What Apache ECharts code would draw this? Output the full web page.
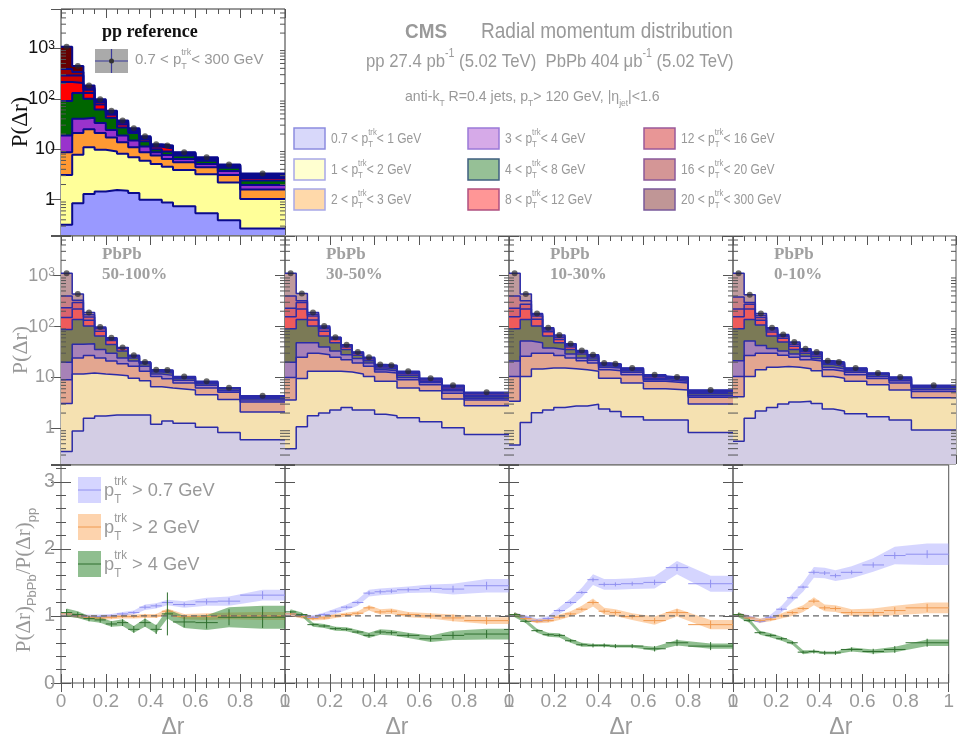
<!DOCTYPE html>
<html><head><meta charset="utf-8">
<script src="https://cdn.jsdelivr.net/npm/echarts@6/dist/echarts.min.js"></script>
<style>html,body{margin:0;padding:0;background:#fff}#c{width:957px;height:740px}</style>
</head><body><div id="c"></div>
<script>
// ---- bins ----
const edges = [0,0.05,0.1,0.15,0.2,0.25,0.3,0.35,0.4,0.45,0.5,0.6,0.7,0.8,1.0];
const centers = [0.025,0.075,0.125,0.175,0.225,0.275,0.325,0.375,0.425,0.475,0.55,0.65,0.75,0.9];
const logMinorTicks = [0.3,0.4,0.5,0.6,0.7,0.8,0.9,2,3,4,5,6,7,8,9,20,30,40,50,60,70,80,90,200,300,400,500,600,700,800,900,2000,3000,4000,5000];
const layerNames = ['0.7 < p_T^trk< 1 GeV','1 < p_T^trk< 2 GeV','2 < p_T^trk< 3 GeV','3 < p_T^trk< 4 GeV','4 < p_T^trk< 8 GeV','8 < p_T^trk< 12 GeV','12 < p_T^trk< 16 GeV','16 < p_T^trk< 20 GeV','20 < p_T^trk< 300 GeV'];
const panelLabels = ['50-100%','30-50%','10-30%','0-10%'];
const ratioLegend = ['p_T^trk > 0.7 GeV','p_T^trk > 2 GeV','p_T^trk > 4 GeV'];

// ---- cumulative (stacked) upper edges, layers bottom -> top ----
const ppCum = [
 [0.32,0.85,1.3,1.46,1.56,1.5,1.36,1.0,1.0,0.88,0.74,0.54,0.39,0.27],
 [3.1,7.8,11,9.8,9.0,8.1,6.9,5.9,5.1,4.5,3.9,3.2,2.2,1.03],
 [8.7,21,25,21,17,13.8,11,8.7,7.5,6.4,5.5,4.4,3.1,1.6],
 [18.7,40,42,33,24,18.7,14.9,11.3,8.7,7.7,6.4,5.1,3.7,1.96],
 [90,130,100,61,42,27,21,14.4,10,9.0,7.5,5.9,4.3,2.4],
 [215,205,130,77,48,31,23,16,11.2,10.3,8.0,6.3,4.6,2.7],
 [290,290,151,86,52,33.5,24.3,16.8,11.8,10.8,8.3,6.5,4.8,2.9],
 [390,340,166,92,55,35.3,25.2,17.4,12.2,11.3,8.5,6.7,4.9,3.1],
 [1070,445,184,98,58,37,26,18,12.5,11.8,8.7,6.9,5.0,3.3]
];
const pb50Cum = [
 [0.35,0.89,1.58,1.75,1.83,1.83,1.83,1.83,1.2,1.4,1.26,1.05,0.83,0.6],
 [3.1,11.7,12.2,11.7,11.3,10.8,9.7,8.6,6.6,6.2,5.7,4.6,3.7,2.1],
 [9,24,27,24,21,18.5,16.6,13.2,10.5,9.4,7.8,6.2,5.1,3.3],
 [20,45,46,35.5,30,24,21,16.6,11.7,11,8.8,7,5.5,3.6],
 [88,138,102,65,44.5,33,24,18.5,12.8,12.2,9.5,7.5,6.0,3.9],
 [150,220,133,81,53,37,25.5,19.2,13.3,12.8,9.9,7.8,6.1,4.05],
 [235,296,154,91,56,38,26.3,19.6,13.7,13.3,10.1,8.0,6.2,4.15],
 [400,330,170,95,58,38.5,26.8,19.9,13.9,13.6,10.3,8.2,6.25,4.25],
 [1110,435,188,98,60,39,27.4,20.2,14.2,14,10.5,8.4,6.3,4.4]
];
const pb30Cum = [
 [0.4,1.08,1.78,2.0,2.3,2.56,2.3,2.3,1.9,1.78,1.62,1.35,1.03,0.76],
 [3.6,9.5,13.2,13.2,13.2,12.8,11.7,10.5,8.4,8.4,6.2,5.5,3.8,2.8],
 [10,25,30,28,25,22.4,19.3,16.6,12.8,12.2,9.0,7.2,4.9,3.6],
 [20,48,48,39.5,33,28,23.5,19.3,14.2,13.6,10,8,5.5,3.9],
 [91,138,102,65,48,35.5,27.4,21.4,15.4,14.9,11,8.4,5.8,4.2],
 [155,220,135,81,56,39.5,29.5,23,16.3,15.8,11.8,8.9,6.2,4.5],
 [230,296,162,91,59,41.5,30.5,24,17,16.5,12.5,9.3,6.6,4.8],
 [400,320,175,97,61,43,31.2,24.5,17.5,17,12.9,9.5,6.8,5.0],
 [1110,445,188,102,62,44,31.7,25,17.9,17.4,13.2,9.7,7.0,5.1]
];
const pb10Cum = [
 [0.47,1.3,2.04,2.3,2.56,2.76,2.76,2.98,2.4,2.14,1.7,1.46,1.46,0.83],
 [3.4,10.5,14.7,15.4,15.4,14.9,14.2,13.2,9.7,9.7,7.8,6.0,5.7,3.0],
 [10.5,26,30,30,27,24,21.4,19.3,14.2,13.6,11.3,8.4,7.8,4.1],
 [21,52,48,38,35.5,29,24,21.8,15.8,15.4,12.6,9.0,8.4,4.4],
 [91,138,102,65,48,35.5,29,24,17,16.5,13.6,9.7,9.0,4.8],
 [155,220,139,79,56,39.5,31,25.5,17.8,17.2,14.3,10.3,9.5,5.1],
 [230,275,162,86,61,42,32.3,26.5,18.5,17.8,14.8,10.7,9.8,5.35],
 [400,320,172,91,65,44,33.2,27.3,19,18.2,15.1,11,10.0,5.55],
 [1110,435,180,95,68,45.7,33.8,28,19.3,18.5,15.4,11.3,10.2,5.7]
];
const pb0Cum = [
 [0.56,1.58,2.2,2.56,3.0,3.3,3.4,3.1,2.4,2.2,1.95,1.7,1.46,0.93],
 [4.2,10.5,14.2,15.8,16.5,15.8,14.9,13.6,10.5,9.7,8.4,7.2,5.7,4.0],
 [10.5,27,30,30,27.4,25,22.4,21,14.2,13.2,11.3,9.5,7.8,5.3],
 [21.4,52,42.5,37,33,29,26,23.5,15.8,14.9,12.6,10.5,8.6,5.8],
 [91,138,107,65,50,35.5,30,26,17.9,16.5,13.6,11.3,9.3,6.3],
 [155,220,133,78,59,41,32.5,28,19,17.7,14.3,11.7,9.6,6.6],
 [220,275,150,86,64,45,34.2,29.5,20,18.7,14.8,11.9,9.85,6.8],
 [380,296,165,91,67,48,35.5,30.8,20.8,19.5,15.1,12.05,10.0,6.9],
 [1110,420,180,95,70,50,36.5,31.7,21.4,20.2,15.4,12.2,10.2,7.0]
];

// ---- ratio PbPb/pp : [pT>0.7, pT>2, pT>4] ----
const ratio50 = [
 [1.03,1.0,0.99,0.99,1.0,1.03,1.05,1.13,1.15,1.2,1.17,1.21,1.22,1.31],
 [1.03,1.0,0.98,0.97,0.98,0.99,0.99,1.0,1.0,1.07,0.99,0.99,1.0,1.0],
 [1.05,1.02,0.96,0.94,0.88,0.9,0.8,0.9,0.8,1.03,0.91,0.9,0.98,0.98]
];
const ratio30 = [
 [1.03,1.0,0.98,1.02,1.07,1.13,1.2,1.34,1.36,1.37,1.39,1.41,1.4,1.45],
 [1.03,0.99,0.96,0.97,1.0,1.02,1.04,1.12,1.06,1.07,1.02,1.0,0.97,0.93],
 [1.06,1.02,0.87,0.85,0.81,0.8,0.76,0.71,0.76,0.75,0.71,0.66,0.71,0.73]
];
const ratio10 = [
 [1.02,0.98,0.93,0.96,1.08,1.2,1.35,1.54,1.47,1.47,1.48,1.5,1.72,1.48],
 [1.02,0.96,0.92,0.93,0.98,1.03,1.1,1.2,1.07,1.05,0.99,0.93,1.05,0.87],
 [1.02,0.92,0.78,0.72,0.71,0.63,0.57,0.56,0.56,0.55,0.55,0.51,0.6,0.55]
];
const ratio0 = [
 [1.02,0.98,0.92,0.98,1.1,1.27,1.43,1.65,1.64,1.6,1.65,1.76,1.9,1.92],
 [1.02,0.97,0.93,0.95,1.0,1.05,1.11,1.22,1.12,1.11,1.05,1.05,1.08,1.12],
 [1.02,0.93,0.75,0.71,0.66,0.6,0.46,0.47,0.45,0.45,0.5,0.47,0.5,0.6]
];
// systematic band half-widths
const sys50 = [
 [0.03,0.03,0.03,0.03,0.03,0.03,0.03,0.04,0.04,0.04,0.05,0.06,0.07,0.08],
 [0.03,0.03,0.03,0.03,0.03,0.03,0.03,0.03,0.03,0.04,0.04,0.05,0.05,0.06],
 [0.06,0.05,0.04,0.04,0.04,0.05,0.05,0.06,0.06,0.07,0.09,0.11,0.15,0.17]
];
const sys30 = [
 [0.03,0.03,0.03,0.03,0.04,0.04,0.05,0.05,0.05,0.05,0.05,0.06,0.08,0.1],
 [0.03,0.03,0.03,0.03,0.03,0.03,0.03,0.04,0.04,0.04,0.04,0.04,0.05,0.05],
 [0.04,0.03,0.03,0.03,0.03,0.03,0.03,0.04,0.04,0.04,0.04,0.05,0.07,0.08]
];
const sys10 = [
 [0.03,0.03,0.03,0.04,0.05,0.06,0.07,0.08,0.08,0.08,0.08,0.09,0.1,0.12],
 [0.03,0.03,0.03,0.03,0.04,0.04,0.05,0.06,0.05,0.05,0.05,0.06,0.06,0.07],
 [0.04,0.03,0.03,0.03,0.03,0.03,0.03,0.02,0.02,0.02,0.02,0.03,0.04,0.04]
];
const sys0 = [
 [0.03,0.03,0.03,0.04,0.05,0.06,0.07,0.08,0.08,0.08,0.09,0.1,0.13,0.16],
 [0.03,0.03,0.03,0.03,0.04,0.05,0.05,0.06,0.05,0.05,0.05,0.06,0.07,0.08],
 [0.04,0.03,0.03,0.03,0.03,0.03,0.03,0.02,0.02,0.02,0.03,0.03,0.04,0.05]
];
// statistical error bars
const statStd = [0.02,0.02,0.02,0.02,0.02,0.02,0.02,0.03,0.03,0.03,0.03,0.04,0.05,0.06];
const statG50 = [0.05,0.04,0.04,0.04,0.04,0.05,0.05,0.06,0.07,0.32,0.08,0.09,0.12,0.16];

// ---- styles ----
const ppColors = ['#9999ff','#ffff99','#ff9933','#9933cc','#006600','#ff0000','#cc0000','#990000','#660000'];
const pbColors = ['#d3cde4','#f5e1b1','#e3a690','#a782b7','#7b7a56','#ef5b5b','#d9646e','#c97f86','#bf9a9d'];
const legFill = ['#d8d8fa','#ffffd0','#ffd9aa','#d6aae8','#96c096','#ff9696','#e89696','#d49696','#c09696'];
const legStroke = ['#8c8ce0','#a8a8e8','#a8a8e8','#9a7ad8','#3f5f80','#b05080','#9a5a9a','#8a5a9a','#7a5a9a'];
const rFill = ['rgba(150,150,255,0.40)','rgba(250,150,60,0.42)','rgba(40,130,40,0.52)'];
const rLine = ['#9090f0','#f09a50','#2f6f2f'];
const GREY = '#9a9a9a';
const FONT = 'Liberation Sans';
const TICK = '#555';

const histGrids = [
 {left:61, top:9, width:224, height:226},
 {left:61, top:236, width:224, height:228},
 {left:285, top:236, width:224, height:228},
 {left:509, top:236, width:224, height:228},
 {left:733, top:236, width:223, height:228}
];
const ratioGrids = [
 {left:61, top:465, width:224, height:229},
 {left:285, top:465, width:224, height:229},
 {left:509, top:465, width:224, height:229},
 {left:733, top:465, width:223, height:229}
];

const grids = [], xAxes = [], yAxes = [], xAxes2 = [], yAxes2 = [], series = [];
function logFmt(v){
  const l = Math.log10(v), r = Math.round(l);
  if (Math.abs(l-r) > 1e-6) return '';
  if (r === 0) return '1';
  if (r === 1) return '10';
  if (r < 0) return '';
  return '10{s|' + r + '}';
}
function xAxisBase(i, pos){
  return {type:'value', gridIndex:i, position:pos, min:0, max:1, interval:0.2,
    axisLine:{show:false}, axisTick:{inside:true, length:9, lineStyle:{color:TICK}},
    minorTick:{show:true, splitNumber:4, length:5, lineStyle:{color:TICK}},
    axisLabel:{show:false}, splitLine:{show:false}};
}
histGrids.forEach((g,i)=>{
  grids.push(Object.assign({show:true, borderColor: i===0?'#333':'#555', borderWidth:1, backgroundColor:'transparent'}, g));
  xAxes.push(xAxisBase(i,'bottom'));
  xAxes2.push(xAxisBase(i,'top'));
  const lblColor = i===0 ? '#111' : GREY;
  yAxes.push({type:'log', logBase:10, gridIndex:i, min:0.2, max:6000,
    axisLine:{show:false}, axisTick:{inside:true, length:10, lineStyle:{color:TICK}},
    splitLine:{show:false},
    axisLabel:{show: i<=1, margin:6, color:lblColor, fontFamily:FONT, fontSize:18, formatter:logFmt,
      rich:{s:{fontSize:12, color:lblColor, fontFamily:FONT, verticalAlign:'top', lineHeight:12}}}});
  yAxes2.push({type:'log', logBase:10, gridIndex:i, position:'right', min:0.2, max:6000,
    axisLine:{show:false}, axisTick:{inside:true, length:10, lineStyle:{color:TICK}},
    splitLine:{show:false}, axisLabel:{show:false}});
});
ratioGrids.forEach((g,j)=>{
  const i = histGrids.length + j;
  grids.push(Object.assign({show:true, borderColor:'#555', borderWidth:1, backgroundColor:'transparent'}, g));
  const xa = xAxisBase(i,'bottom');
  xa.axisLabel = {show:true, color:GREY, fontFamily:FONT, fontSize:19, margin:9, showMinLabel:true, showMaxLabel:true,
      formatter: v => (Math.abs(v*5-Math.round(v*5))<1e-6 ? String(+v.toFixed(1)) : '')};
  xa.name = 'Δr'; xa.nameLocation = 'middle'; xa.nameGap = 33;
  xa.nameTextStyle = {color:GREY, fontFamily:FONT, fontSize:23};
  xAxes.push(xa);
  xAxes2.push(xAxisBase(i,'top'));
  const yb = {type:'value', gridIndex:i, min:0, max:3.25, interval:1,
    axisLine:{show:false}, axisTick:{inside:true, length:10, lineStyle:{color:TICK}},
    minorTick:{show:true, splitNumber:5, length:5, lineStyle:{color:TICK}},
    splitLine:{show:false}};
  yAxes.push(Object.assign({}, yb, {axisLabel:{show: j===0, color:GREY, fontFamily:FONT, fontSize:20, margin:6,
      formatter: v => (Math.abs(v-Math.round(v))<1e-6 ? String(Math.round(v)) : '')}}));
  yAxes2.push(Object.assign({}, yb, {position:'right', axisLabel:{show:false}}));
});

function stepData(arr){
  const d = arr.map((v,i)=>[edges[i], v]);
  d.push([edges[edges.length-1], arr[arr.length-1]]);
  return d;
}
function addHist(cum, gi, colors, lineColor, lineW){
  for (let k = cum.length-1; k >= 0; k--){
    series.push({type:'line', xAxisIndex:gi, yAxisIndex:gi, step:'end', data:stepData(cum[k]),
      symbol:'none', silent:true, animation:false, z:2,
      lineStyle:{width:0, opacity:0}, areaStyle:{color:colors[k], opacity:1, origin:'start'}});
  }
  for (let k = cum.length-1; k >= 0; k--){
    series.push({type:'line', xAxisIndex:gi, yAxisIndex:gi, step:'end', data:stepData(cum[k]),
      symbol:'none', silent:true, animation:false, z:3,
      lineStyle:{width:lineW, color:lineColor}});
  }
  const top = cum[cum.length-1];
  series.push({type:'scatter', xAxisIndex:gi, yAxisIndex:gi, data:centers.map((c,i)=>[c, top[i]]),
    symbol:'circle', symbolSize:6, itemStyle:{color:'rgba(40,40,40,0.85)'}, z:5, silent:true, animation:false});
  // minor log ticks on left and right frames
  series.push({type:'custom', xAxisIndex:gi, yAxisIndex:gi, silent:true, animation:false, z:6,
    data: logMinorTicks.map(v=>[0, v]),
    renderItem: (params, api) => {
      const p = api.coord([0, api.value(1)]), q = api.coord([1, api.value(1)]);
      return {type:'group', children:[
        {type:'line', shape:{x1:p[0], y1:p[1], x2:p[0]+5, y2:p[1]}, style:{stroke:TICK, lineWidth:1}},
        {type:'line', shape:{x1:q[0], y1:q[1], x2:q[0]-5, y2:q[1]}, style:{stroke:TICK, lineWidth:1}}
      ]};
    }});
}
addHist(ppCum, 0, ppColors, '#0a0a8c', 2);
addHist(pb50Cum, 1, pbColors, '#2b2ba8', 1.5);
addHist(pb30Cum, 2, pbColors, '#2b2ba8', 1.5);
addHist(pb10Cum, 3, pbColors, '#2b2ba8', 1.5);
addHist(pb0Cum, 4, pbColors, '#2b2ba8', 1.5);

const ratioSets = [[ratio50, sys50], [ratio30, sys30], [ratio10, sys10], [ratio0, sys0]];
ratioSets.forEach((rs, j)=>{
  const gi = histGrids.length + j;
  const [vals, errs] = rs;
  for (let s = 0; s < 3; s++){
    const v = vals[s], e = errs[s];
    const xs = centers.concat([edges[edges.length-1]]);
    const vv = v.concat([v[v.length-1]]);
    const ee = e.concat([e[e.length-1]]);
    series.push({type:'custom', xAxisIndex:gi, yAxisIndex:gi, silent:true, animation:false, z:2,
      data: xs.map((x,i)=>[x, vv[i]]),
      renderItem: (params, api) => {
        if (params.dataIndex !== 0) return null;
        const up = [], lo = [];
        for (let i = 0; i < xs.length; i++){
          up.push(api.coord([xs[i], vv[i]+ee[i]]));
          lo.push(api.coord([xs[i], vv[i]-ee[i]]));
        }
        return {type:'polygon', shape:{points: up.concat(lo.reverse())}, style:{fill: rFill[s]}};
      }});
  }
  for (let s = 0; s < 3; s++){
    const v = vals[s];
    const st = (j===0 && s===2) ? statG50 : statStd;
    series.push({type:'custom', xAxisIndex:gi, yAxisIndex:gi, silent:true, animation:false, z:4,
      data: centers.map((c,i)=>[c, v[i], st[i], edges[i], edges[i+1]]),
      renderItem: (params, api) => {
        const c = api.value(0), y = api.value(1), er = api.value(2), x0 = api.value(3), x1 = api.value(4);
        const a = api.coord([x0, y]), b = api.coord([x1, y]);
        const t = api.coord([c, y+er]), bt = api.coord([c, y-er]);
        return {type:'group', children:[
          {type:'line', shape:{x1:a[0], y1:a[1], x2:b[0], y2:b[1]}, style:{stroke:rLine[s], lineWidth:1}},
          {type:'line', shape:{x1:t[0], y1:t[1], x2:bt[0], y2:bt[1]}, style:{stroke:rLine[s], lineWidth:1}}
        ]};
      }});
  }
  series.push({type:'line', xAxisIndex:gi, yAxisIndex:gi, data:[[0,1],[1,1]], symbol:'none', silent:true, animation:false, z:6,
    lineStyle:{color:'#666', width:1.2, type:[6,4]}});
});

// ---- rich text helpers ----
function richPT(str){ return str.replace('p_T^trk', 'p{sub|T}{sup|trk}'); }
function richDef(base, color){
  const f = Math.round(base*0.62);
  return {
    sub:{fontSize:f, fill:color, fontFamily:FONT, verticalAlign:'bottom', width:0},
    sup:{fontSize:f, fill:color, fontFamily:FONT, verticalAlign:'top'},
    sp:{fontSize:f, fill:color, fontFamily:FONT, verticalAlign:'top'},
    sb:{fontSize:f, fill:color, fontFamily:FONT, verticalAlign:'bottom'}
  };
}
const graphics = [];
function txt(x, y, text, size, color, opts){
  opts = opts || {};
  graphics.push(Object.assign({type:'text', x:x, y:y, z:100, silent:true,
    style:Object.assign({text:text, fill:color, font:(opts.weight||'normal')+' '+size+'px '+(opts.family||FONT),
      align:opts.align||'left', verticalAlign:'middle', lineHeight:opts.lh||Math.round(size*1.5),
      rich:richDef(size, color)}, opts.style||{})}, opts.el||{}));
}

// header
txt(405, 32, 'CMS', 21, '#999', {weight:'bold', el:{scaleX:0.9}});
txt(481, 32, 'Radial momentum distribution', 22, '#999', {el:{scaleX:0.865}});
txt(366, 62, 'pp 27.4 pb{sp|-1} (5.02 TeV)  PbPb 404 μb{sp|-1} (5.02 TeV)', 19, '#999', {el:{scaleX:0.88}});
txt(405, 97, 'anti-k{sb|T} R=0.4 jets, p{sb|T}> 120 GeV, |η{sb|jet}|<1.6', 15, '#999', {el:{scaleX:0.94}});

// stack legend (3 columns)
const legCols = [294, 468, 644], legRows = [128, 159, 189];
layerNames.forEach((n, k)=>{
  const c = Math.floor(k/3), r = k%3;
  graphics.push({type:'rect', z:100, silent:true, shape:{x:legCols[c], y:legRows[r], width:31, height:21},
    style:{fill:legFill[k], stroke:legStroke[k], lineWidth:1.5}});
  txt(legCols[c]+37, legRows[r]+11, richPT(n), 14, '#999', {el:{scaleX:0.86}});
});

// pp panel labels
txt(102, 32, 'pp reference', 18, '#111', {weight:'bold', family:'Liberation Serif'});
graphics.push({type:'rect', z:100, silent:true, shape:{x:95, y:49, width:33, height:24}, style:{fill:'#aaaaaa'}});
graphics.push({type:'line', z:101, silent:true, shape:{x1:95, y1:61, x2:128, y2:61}, style:{stroke:'#3a3a9a', lineWidth:1.2}});
graphics.push({type:'line', z:101, silent:true, shape:{x1:111.5, y1:49, x2:111.5, y2:73}, style:{stroke:'#3a3a9a', lineWidth:1.2}});
graphics.push({type:'circle', z:102, silent:true, shape:{cx:111.5, cy:61, r:2.5}, style:{fill:'#333'}});
txt(135, 60, richPT('0.7 < p_T^trk< 300 GeV'), 15, '#999', {el:{scaleX:1.0}});

// PbPb labels
[61, 285, 509, 733].forEach((l, j)=>{
  txt(l+41, 255, 'PbPb', 17, '#a0a0a0', {weight:'bold', family:'Liberation Serif'});
  txt(l+41, 275, panelLabels[j], 17, '#a0a0a0', {weight:'bold', family:'Liberation Serif'});
});

// ratio legend
[[477, 0], [514, 1], [551, 2]].forEach(([y, s])=>{
  graphics.push({type:'rect', z:100, silent:true, shape:{x:78, y:y, width:23, height:26}, style:{fill:rFill[s]}});
  graphics.push({type:'line', z:101, silent:true, shape:{x1:78, y1:y+13, x2:101, y2:y+13}, style:{stroke:rLine[s], lineWidth:1}});
  txt(104, y+14, richPT(ratioLegend[s]), 19, '#999', {lh:30, el:{scaleX:0.96}});
});

// y-axis titles
txt(21, 122, 'P(Δr)', 23, '#111', {align:'center', family:'Liberation Serif', el:{rotation:Math.PI/2}});
txt(21, 350, 'P(Δr)', 22, '#999', {align:'center', family:'Liberation Serif', el:{rotation:Math.PI/2}});
txt(24, 580, 'P(Δr){sb|PbPb}/P(Δr){sb|pp}', 21, '#999', {align:'center', family:'Liberation Serif', lh:30, el:{rotation:Math.PI/2}});

const chart = echarts.init(document.getElementById('c'), null, {renderer:'canvas'});
chart.setOption({
  animation:false,
  backgroundColor:'#ffffff',
  grid:grids, xAxis:xAxes.concat(xAxes2), yAxis:yAxes.concat(yAxes2), series:series, graphic:graphics
});
</script>
</body></html>
